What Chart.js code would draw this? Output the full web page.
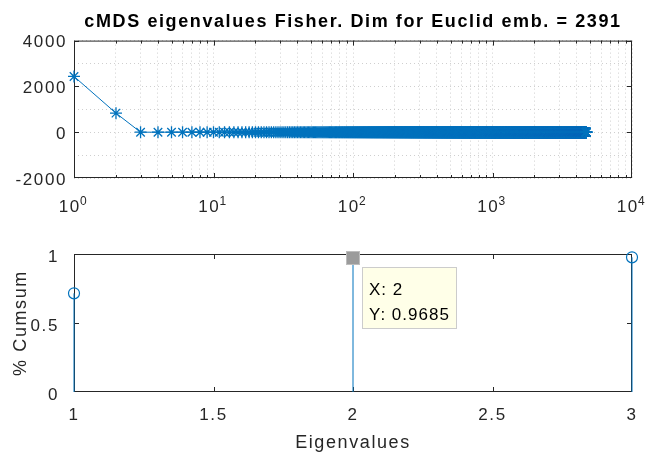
<!DOCTYPE html>
<html>
<head>
<meta charset="utf-8">
<script src="https://cdn.jsdelivr.net/npm/chart.js@4"></script>
<style>
  body { margin: 0; background: #fff; }
  canvas { position: absolute; left: 0; }
  #eig { top: 0; }
  #cum { top: 228px; }
</style>
</head>
<body>
<canvas id="eig" width="646" height="228"></canvas>
<canvas id="cum" width="646" height="229"></canvas>
<script>
// values
const eigHead = [2435, 832];   // first two eigenvalues
const eigTailValue = 0;        // the rest sit on zero at this scale
const eigCount = 4700;         // last marker is near 4.7e3
const logTicks = [1, 10, 100, 1000, 10000];
const eigYTicks = [-2000, 0, 2000, 4000];

const cumIdx = [1, 2, 3];
const cumValues = [0.715, 0.9685, 0.976];
const cumXTicks = [1, 1.5, 2, 2.5, 3];
const cumYTicks = [0, 0.5, 1];
const tipIdx = 2;
const tipValue = 0.9685;

const titleText = 'cMDS eigenvalues Fisher. Dim for Euclid emb. = 2391';

const blue = '#0072BD';
const ink = '#262626';
const gridCol = '#cfcfcf';
const spacing = '1.6px';

Chart.defaults.font.family = '"Liberation Sans", Arial, Helvetica, sans-serif';
Chart.defaults.color = ink;
Chart.defaults.animation = false;

// minor log positions for grid lines + small tick marks
const logGrid = [];
logTicks.slice(0, -1).forEach(d => { for (let k = 1; k <= 9; k++) logGrid.push(d * k); });
logGrid.push(logTicks[logTicks.length - 1]);

const eigPoints = [];
for (let i = 1; i <= eigCount; i++) {
  eigPoints.push({x: i, y: i <= eigHead.length ? eigHead[i - 1] : eigTailValue});
}

// wider text like the original
const letterSpacing = {
  id: 'letterSpacing',
  beforeDraw(chart) { chart.ctx.letterSpacing = spacing; }
};

// matlab style box with inward ticks
const frame = {
  id: 'frame',
  beforeDatasetsDraw(chart, args, opts) {
    const {ctx, chartArea: a, scales: {x, y}} = chart;
    ctx.save();
    ctx.strokeStyle = ink;
    ctx.lineWidth = 1;
    ctx.setLineDash([]);
    ctx.beginPath();
    ctx.rect(a.left + 0.5, a.top + 0.5, a.right - a.left - 1, a.bottom - a.top - 1);
    opts.xMarks.forEach(m => {
      let px = Math.round(x.getPixelForValue(m.v)) + 0.5;
      px = Math.min(Math.max(px, a.left + 0.5), a.right - 0.5);
      ctx.moveTo(px, a.bottom); ctx.lineTo(px, a.bottom - m.len);
      ctx.moveTo(px, a.top); ctx.lineTo(px, a.top + m.len);
    });
    opts.yMarks.forEach(v => {
      let py = Math.round(y.getPixelForValue(v)) + 0.5;
      py = Math.min(Math.max(py, a.top + 0.5), a.bottom - 0.5);
      ctx.moveTo(a.left, py); ctx.lineTo(a.left + 5, py);
      ctx.moveTo(a.right, py); ctx.lineTo(a.right - 5, py);
    });
    ctx.stroke();
    ctx.restore();
  }
};

// 10^n labels with raised exponent
const powLabels = {
  id: 'powLabels',
  afterDraw(chart) {
    const {ctx, scales: {x}} = chart;
    const base = '17px "Liberation Sans", Arial, sans-serif';
    const sup = '12px "Liberation Sans", Arial, sans-serif';
    ctx.save();
    ctx.fillStyle = ink;
    ctx.letterSpacing = spacing;
    ctx.textAlign = 'left';
    ctx.textBaseline = 'alphabetic';
    logTicks.forEach(v => {
      const e = String(Math.round(Math.log10(v)));
      ctx.font = base;
      const wb = ctx.measureText('10').width;
      ctx.font = sup;
      const we = ctx.measureText(e).width;
      const left = x.getPixelForValue(v) - (wb + we) / 2;
      ctx.font = base;
      ctx.fillText('10', left, 212);
      ctx.font = sup;
      ctx.fillText(e, left + wb - 1, 205);
    });
    ctx.restore();
  }
};

// the data tip on the second stem
const dataTip = {
  id: 'dataTip',
  afterDatasetsDraw(chart) {
    const {ctx, scales: {x, y}} = chart;
    const px = Math.round(x.getPixelForValue(tipIdx));
    const py = Math.round(y.getPixelForValue(tipValue));
    ctx.save();
    ctx.setLineDash([]);
    ctx.fillStyle = '#9b9b9b';
    ctx.fillRect(px - 7, py - 7, 14, 14);
    ctx.strokeStyle = '#bdbdbd';
    ctx.lineWidth = 1;
    ctx.strokeRect(px - 6.5, py - 6.5, 13, 13);
    const bx = px + 9.5, by = py + 9.5;
    ctx.fillStyle = '#ffffe8';
    ctx.fillRect(bx, by, 94, 61);
    ctx.strokeStyle = '#cccccc';
    ctx.strokeRect(bx, by, 94, 61);
    ctx.fillStyle = '#000';
    ctx.letterSpacing = '1px';
    ctx.font = '17px "Liberation Sans", Arial, sans-serif';
    ctx.textAlign = 'left';
    ctx.textBaseline = 'alphabetic';
    ctx.fillText('X: ' + tipIdx, bx + 6.5, by + 27);
    ctx.fillText('Y: ' + tipValue, bx + 6.5, by + 52);
    ctx.restore();
  }
};

new Chart(document.getElementById('eig'), {
  type: 'scatter',
  data: {
    datasets: [{
      data: eigPoints,
      showLine: true,
      borderColor: blue,
      borderWidth: 1,
      pointStyle: 'star',
      pointRadius: 6,
      pointBorderColor: blue,
      pointBackgroundColor: blue,
      pointBorderWidth: 1.3,
      clip: false
    }]
  },
  options: {
    responsive: false,
    events: [],
    layout: {padding: {top: 0, right: 14, bottom: 0, left: 0}},
    scales: {
      x: {
        type: 'logarithmic',
        min: logTicks[0],
        max: logTicks[logTicks.length - 1],
        afterFit(s) { s.height = 50; s.paddingLeft = 0; s.paddingRight = 0; },
        afterBuildTicks(s) { s.ticks = logGrid.map(v => ({value: v, major: logTicks.includes(v)})); },
        grid: {color: gridCol, drawTicks: false, lineWidth: 1},
        border: {display: false, dash: [1, 3]},
        ticks: {display: false, autoSkip: false}
      },
      y: {
        min: eigYTicks[0],
        max: eigYTicks[eigYTicks.length - 1],
        afterFit(s) { s.width = 74; },
        grid: {color: gridCol, drawTicks: false, lineWidth: 1},
        border: {display: false, dash: [1, 3]},
        ticks: {
          stepSize: 1000,
          autoSkip: false,
          padding: 7,
          labelOffset: 2,
          font: {size: 17},
          callback: v => eigYTicks.includes(v) ? String(v) : ''
        }
      }
    },
    plugins: {
      legend: {display: false},
      tooltip: {enabled: false},
      title: {
        display: true,
        text: titleText,
        fullSize: false,
        color: '#000',
        font: {size: 18, weight: 'bold'},
        padding: {top: 11, bottom: 8}
      },
      frame: {
        xMarks: logGrid.map(v => ({v, len: logTicks.includes(v) ? 5 : 3})),
        yMarks: eigYTicks
      }
    }
  },
  plugins: [letterSpacing, frame, powLabels]
});

const stems = cumIdx.map((c, i) => ({
  data: [{x: c, y: 0}, {x: c, y: cumValues[i]}],
  showLine: true,
  borderColor: blue,
  borderWidth: 1,
  pointRadius: 0,
  clip: false
}));

new Chart(document.getElementById('cum'), {
  type: 'scatter',
  data: {
    datasets: [...stems, {
      data: cumIdx.map((c, i) => ({x: c, y: cumValues[i]})),
      pointStyle: 'circle',
      pointRadius: 5.5,
      pointBorderWidth: 1.2,
      pointBorderColor: blue,
      pointBackgroundColor: 'rgba(0,0,0,0)',
      clip: false
    }]
  },
  options: {
    responsive: false,
    events: [],
    layout: {padding: {top: 26, right: 14, bottom: 0, left: 0}},
    scales: {
      x: {
        min: cumXTicks[0],
        max: cumXTicks[cumXTicks.length - 1],
        afterFit(s) { s.height = 65; s.paddingLeft = 0; s.paddingRight = 0; },
        grid: {display: false},
        border: {display: false},
        ticks: {stepSize: 0.5, autoSkip: false, padding: 5, font: {size: 17}, callback: v => String(v)},
        title: {display: true, text: 'Eigenvalues', color: ink, font: {size: 18}, padding: {top: 0, bottom: 3}}
      },
      y: {
        min: cumYTicks[0],
        max: cumYTicks[cumYTicks.length - 1],
        afterFit(s) { s.width = 74; },
        grid: {display: false},
        border: {display: false},
        ticks: {stepSize: 0.5, autoSkip: false, padding: 7, labelOffset: 3, font: {size: 17}, callback: v => String(v)},
        title: {display: true, text: '% Cumsum', color: ink, font: {size: 18}, padding: {top: 10, bottom: 0}}
      }
    },
    plugins: {
      legend: {display: false},
      tooltip: {enabled: false},
      frame: {
        xMarks: cumXTicks.map(v => ({v, len: 5})),
        yMarks: cumYTicks
      }
    }
  },
  plugins: [letterSpacing, frame, dataTip]
});
</script>
</body>
</html>
